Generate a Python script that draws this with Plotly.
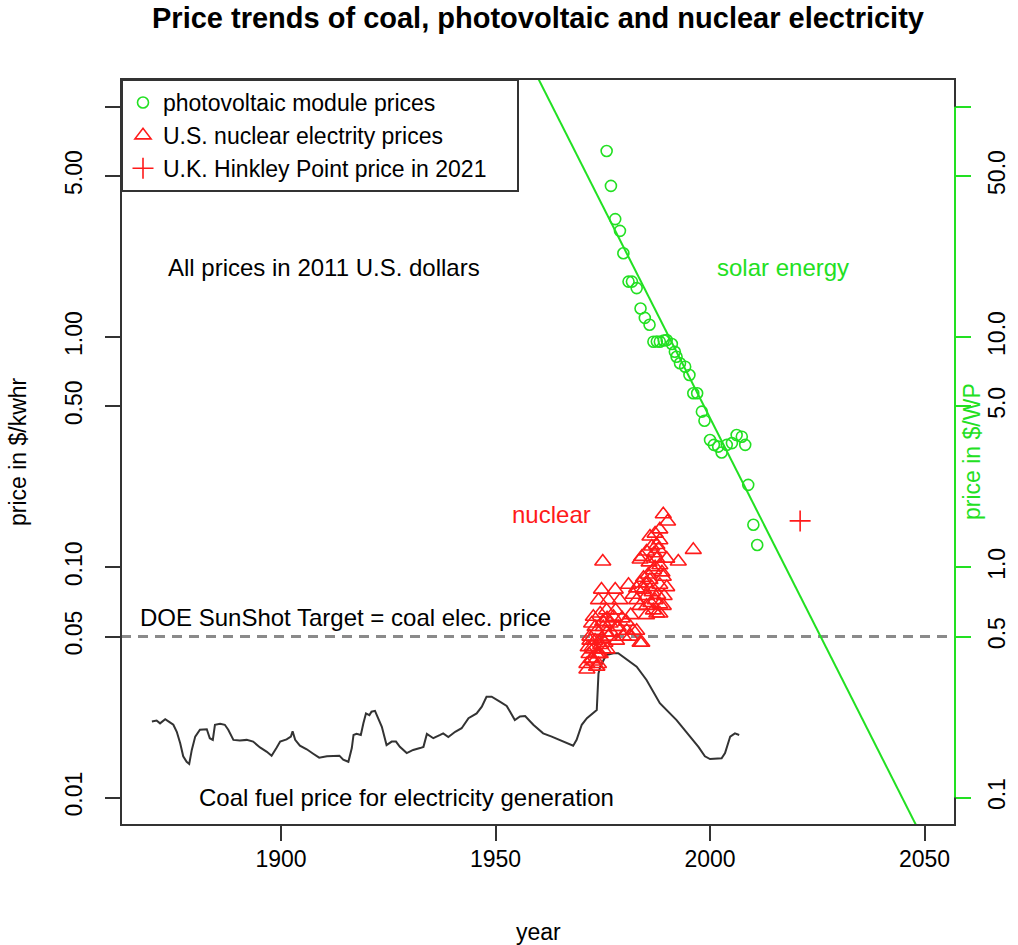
import numpy as np
import plotly.graph_objects as go

# ---------------- data ----------------
# Photovoltaic module prices, $/Wp (right axis)
pv_years = [1975.9, 1976.9, 1977.9, 1979.0, 1979.8, 1981.0, 1981.8, 1982.9, 1983.8, 1984.8,
            1985.9, 1986.8, 1987.6, 1988.3, 1989.2, 1989.9, 1991.1, 1991.8, 1992.2, 1993.0,
            1994.2, 1995.2, 1996.1, 1997.0, 1998.1, 1998.7, 2000.0, 2000.9, 2001.9, 2002.7,
            2003.9, 2005.1, 2006.2, 2007.4, 2008.2, 2008.9, 2010.1, 2011.0]
pv_prices = [64.2, 45.3, 32.5, 28.9, 23.1, 17.4, 17.4, 16.3, 13.3, 12.1,
             11.3, 9.54, 9.56, 9.54, 9.66, 9.70, 9.32, 8.63, 8.21, 7.69,
             7.43, 6.84, 5.70, 5.70, 4.74, 4.33, 3.57, 3.40, 3.34, 3.15,
             3.40, 3.46, 3.75, 3.69, 3.40, 2.28, 1.53, 1.25]

# Exponential trend line of PV prices, $/Wp
pv_trend_years = [1955, 2052]
pv_trend_prices = [201.6, 0.0542]

# U.S. nuclear electricity prices, $/kWh
nuc_years = [1989.1, 1990.1, 1988.3, 1987.2, 1986.0, 1988.3, 1987.6, 1986.4, 1985.2, 1984.1,
             1983.7, 1989.9, 1992.6, 1996.1, 1987.6, 1988.3, 1986.8, 1985.6, 1984.5, 1983.7,
             1982.9, 1984.5, 1986.4, 1988.3, 1989.9, 1986.0, 1989.1, 1985.2, 1987.2, 1988.3,
             1986.8, 1985.2, 1988.3, 1983.7, 1982.9, 1982.1, 1981.0, 1985.8, 1987.0, 1988.0,
             1986.5, 1987.8, 1985.0, 1988.8, 1987.2, 1986.2, 1989.3,
             1975.0, 1974.7, 1977.9, 1974.0, 1976.3, 1979.0, 1972.8, 1974.4, 1975.9, 1977.5,
             1972.4, 1973.6, 1975.1, 1976.7, 1978.6, 1972.0, 1973.2, 1974.7, 1976.3, 1980.6,
             1981.4, 1982.9, 1984.1, 1971.6, 1972.8, 1974.0, 1975.1, 1972.4, 1971.3, 1973.6,
             1979.8, 1978.2, 1971.3, 1973.6, 1972.4, 1974.4, 1972.0, 1975.9, 1978.2, 1982.1,
             1983.7, 1985.2, 1987.6, 1989.1, 1972.5, 1973.5, 1974.5, 1973.0, 1974.0, 1975.5,
             1976.0, 1973.2, 1971.8, 1977.0, 1975.0, 1976.0, 1978.0, 1979.5, 1980.5, 1981.5]
nuc_prices = [0.170, 0.158, 0.146, 0.140, 0.136, 0.131, 0.125, 0.123, 0.117, 0.111,
              0.108, 0.109, 0.106, 0.119, 0.109, 0.102, 0.097, 0.093, 0.090, 0.085,
              0.081, 0.080, 0.082, 0.084, 0.082, 0.088, 0.091, 0.075, 0.072, 0.069,
              0.065, 0.062, 0.063, 0.068, 0.072, 0.076, 0.084, 0.105, 0.115, 0.120,
              0.078, 0.076, 0.085, 0.095, 0.100, 0.070, 0.075,
              0.106, 0.080, 0.080, 0.072, 0.072, 0.072, 0.061, 0.063, 0.065, 0.061,
              0.057, 0.053, 0.055, 0.057, 0.055, 0.050, 0.048, 0.049, 0.050, 0.053,
              0.050, 0.053, 0.047, 0.045, 0.044, 0.042, 0.044, 0.040, 0.038, 0.037,
              0.050, 0.048, 0.036, 0.037, 0.040, 0.042, 0.048, 0.052, 0.055, 0.053,
              0.047, 0.068, 0.063, 0.068, 0.045, 0.042, 0.046, 0.039, 0.038, 0.047,
              0.044, 0.055, 0.042, 0.052, 0.058, 0.060, 0.065, 0.060, 0.058, 0.062]

# U.K. Hinkley Point strike price, $/kWh
hinkley_year = [2021]
hinkley_price = [0.159]

# Coal fuel price for electricity generation, $/kWh
coal_years = [1869.9, 1871.0, 1871.8, 1873.0, 1874.1, 1874.9, 1875.7, 1876.5, 1877.2, 1878.0,
              1878.6, 1879.2, 1880.0, 1881.1, 1882.7, 1883.4, 1884.1, 1884.6, 1885.8, 1886.9,
              1887.7, 1888.9, 1890.4, 1892.0, 1893.5, 1895.1, 1896.7, 1897.8, 1899.0, 1899.8,
              1901.3, 1902.3, 1902.7, 1903.3, 1904.4, 1906.0, 1907.5, 1908.9, 1910.7, 1912.2,
              1913.6, 1914.5, 1915.7, 1916.5, 1916.9, 1917.6, 1918.6, 1919.2, 1919.8, 1920.6,
              1921.1, 1921.9, 1922.3, 1923.5, 1924.6, 1925.8, 1926.8, 1927.7, 1929.3, 1930.8,
              1932.4, 1933.2, 1934.0, 1935.5, 1937.1, 1937.8, 1939.0, 1940.6, 1942.1, 1943.7,
              1945.6, 1946.8, 1947.9, 1949.1, 1951.0, 1952.6, 1953.4, 1954.5, 1955.7, 1956.9,
              1958.8, 1961.1, 1963.1, 1965.0, 1966.6, 1968.1, 1968.9, 1970.1, 1971.3, 1972.8,
              1973.6, 1974.0, 1974.4, 1975.8, 1977.5, 1978.6, 1981.4, 1982.9, 1985.2, 1988.3,
              1992.2, 1995.3, 1997.3, 1998.8, 2000.0, 2002.7, 2003.5, 2004.7, 2005.8, 2006.8]
coal_prices = [0.0214, 0.0216, 0.0210, 0.0219, 0.0212, 0.0207, 0.0193, 0.0172, 0.0151, 0.0143,
               0.0140, 0.0161, 0.0184, 0.0197, 0.0198, 0.0181, 0.0178, 0.0207, 0.0209, 0.0207,
               0.0197, 0.0178, 0.0177, 0.0178, 0.0175, 0.0165, 0.0158, 0.0152, 0.0165, 0.0175,
               0.0179, 0.0184, 0.0194, 0.0178, 0.0168, 0.0162, 0.0155, 0.0149, 0.0151, 0.0152,
               0.0152, 0.0146, 0.0143, 0.0164, 0.0187, 0.0189, 0.0187, 0.0210, 0.0232, 0.0228,
               0.0236, 0.0238, 0.0228, 0.0203, 0.0169, 0.0175, 0.0175, 0.0166, 0.0156, 0.0161,
               0.0164, 0.0166, 0.0189, 0.0181, 0.0187, 0.0190, 0.0183, 0.0193, 0.0200, 0.0221,
               0.0232, 0.0248, 0.0274, 0.0274, 0.0261, 0.0250, 0.0236, 0.0217, 0.0225, 0.0226,
               0.0207, 0.0190, 0.0184, 0.0178, 0.0172, 0.0168, 0.0178, 0.0207, 0.0221, 0.0232,
               0.0240, 0.0346, 0.0370, 0.0416, 0.0423, 0.0423, 0.0389, 0.0370, 0.0324, 0.0257,
               0.0217, 0.0184, 0.0166, 0.0151, 0.0147, 0.0148, 0.0156, 0.0184, 0.0190, 0.0187]

sunshot_target = 0.05  # $/kWh

# axes
x_range = [1862.7, 2057.1]
y_left_range = [0.0076, 13.19]     # $/kWh
wp_per_kwh = 10.0                  # right axis = left axis * 10
x_ticks = [1900, 1950, 2000, 2050]
y_left_ticks = [0.01, 0.05, 0.10, 0.50, 1.00, 5.00, 10.0]
y_left_labels = ["0.01", "0.05", "0.10", "0.50", "1.00", "5.00", ""]
y_right_ticks = [0.1, 0.5, 1.0, 5.0, 10.0, 50.0, 100.0]
y_right_labels = ["0.1", "0.5", "1.0", "5.0", "10.0", "50.0", ""]

# ---------------- styling ----------------
GREEN = "#22e022"
RED = "#ff1a1a"
DARK = "#333333"
FONT = "Liberation Sans, Arial, Helvetica, sans-serif"
NBSP = "\u00a0"

fig = go.Figure()

# SunShot target dashed line
fig.add_trace(go.Scatter(x=x_range, y=[sunshot_target, sunshot_target], mode="lines",
                         line=dict(color="#8a8a8a", width=3, dash="10px,7px"),
                         showlegend=False, hoverinfo="skip", yaxis="y"))

# coal line
fig.add_trace(go.Scatter(x=coal_years, y=coal_prices, mode="lines",
                         line=dict(color=DARK, width=2), showlegend=False, yaxis="y"))

# PV trend line
fig.add_trace(go.Scatter(x=pv_trend_years, y=pv_trend_prices, mode="lines",
                         line=dict(color=GREEN, width=2), showlegend=False, yaxis="y2"))

# PV points
fig.add_trace(go.Scatter(x=pv_years, y=pv_prices, mode="markers",
                         name="photovoltaic module prices",
                         marker=dict(symbol="circle-open", size=11, color=GREEN,
                                     line=dict(width=1.6, color=GREEN)),
                         yaxis="y2"))

# nuclear
fig.add_trace(go.Scatter(x=nuc_years, y=nuc_prices, mode="markers",
                         name="U.S. nuclear electrity prices",
                         marker=dict(symbol="triangle-up-open", size=14, color=RED,
                                     line=dict(width=1.6, color=RED)),
                         yaxis="y"))

# Hinkley
fig.add_trace(go.Scatter(x=hinkley_year, y=hinkley_price, mode="markers",
                         name="U.K. Hinkley Point price in 2021" + NBSP * 4,
                         marker=dict(symbol="cross-thin-open", size=15, color=RED,
                                     line=dict(width=1.6, color=RED)),
                         yaxis="y"))

log_l = [np.log10(v) for v in y_left_range]
log_r = [np.log10(v * wp_per_kwh) for v in y_left_range]

tick_font = dict(family=FONT, size=23, color="black")

# plot area at 121..955 x 79..825 (page body margin removed below)
fig.update_layout(
    width=1018, height=945,
    margin=dict(l=121, r=63, t=79, b=120, autoexpand=False),
    paper_bgcolor="white", plot_bgcolor="white",
    font=dict(family=FONT, size=23, color="black"),
    hovermode=False,
    title=dict(text="Price trends of coal, photovoltaic and nuclear electricity",
               font=dict(family=FONT, size=29, color="black", weight="bold"),
               x=0.5, xref="paper", xanchor="center",
               y=1 - 18 / 945, yref="container", yanchor="middle"),
    xaxis=dict(range=x_range, tickvals=x_ticks, ticks="outside", ticklen=15, tickwidth=2,
               tickcolor=DARK, showgrid=False, zeroline=False, showline=False,
               tickfont=tick_font, ticklabelstandoff=-2, automargin=False),
    yaxis=dict(type="log", range=log_l, tickvals=y_left_ticks, ticktext=y_left_labels,
               ticks="outside", ticklen=15, tickwidth=2, tickcolor=DARK, tickangle=-90,
               showgrid=False, zeroline=False, showline=False, tickfont=tick_font,
               ticklabelstandoff=14, automargin=False),
    yaxis2=dict(type="log", range=log_r, overlaying="y", side="right",
                tickvals=y_right_ticks, ticktext=y_right_labels,
                ticks="outside", ticklen=15, tickwidth=2, tickcolor=GREEN, tickangle=-90,
                showgrid=False, zeroline=False, showline=False, tickfont=tick_font,
                ticklabelstandoff=6, automargin=False),
    legend=dict(x=0, y=1, xanchor="left", yanchor="top", xref="paper", yref="paper",
                bgcolor="white", bordercolor=DARK, borderwidth=2,
                font=dict(family=FONT, size=23, color="black"), tracegroupgap=0),
    shapes=[
        dict(type="rect", xref="paper", yref="paper", x0=0, x1=1, y0=0, y1=1,
             line=dict(color=DARK, width=2)),
        dict(type="line", xref="paper", yref="y2", x0=1, x1=1,
             y0=y_right_ticks[0], y1=y_right_ticks[-1], line=dict(color=GREEN, width=2)),
    ],
)

annots = [
    dict(text="All prices in 2011 U.S. dollars", x=1910, y=2.0, color="black"),
    dict(text="solar energy", x=2017, y=2.0, color=GREEN),
    dict(text="nuclear", x=1963, y=0.17, color=RED),
    dict(text="DOE SunShot Target = coal elec. price", x=1915, y=0.0608, color="black"),
    dict(text="Coal fuel price for electricity generation", x=1929.3, y=0.01, color="black"),
]
for a in annots:
    fig.add_annotation(text=a["text"], x=a["x"], y=np.log10(a["y"]), xref="x", yref="y",
                       showarrow=False, xanchor="center", yanchor="middle",
                       font=dict(family=FONT, size=24, color=a["color"]))

# axis titles
fig.add_annotation(text="price in $/kwhr", x=(18 - 121) / 834, y=0.5, xref="paper", yref="paper",
                   textangle=-90, showarrow=False, xanchor="center", yanchor="middle",
                   font=dict(family=FONT, size=23, color="black"))
fig.add_annotation(text="year", x=0.5, y=(825 - 932) / 746, xref="paper", yref="paper",
                   showarrow=False, xanchor="center", yanchor="middle",
                   font=dict(family=FONT, size=23, color="black"))
fig.add_annotation(text="price in $/WP", x=(972 - 121) / 834, y=0.5, xref="paper", yref="paper",
                   textangle=-90, showarrow=False, xanchor="center", yanchor="middle",
                   font=dict(family=FONT, size=23, color=GREEN))

fig.write_html("out.html",
               config={"displayModeBar": False, "staticPlot": True},
               post_script="document.body.style.margin='0';document.body.style.overflow='hidden';")
